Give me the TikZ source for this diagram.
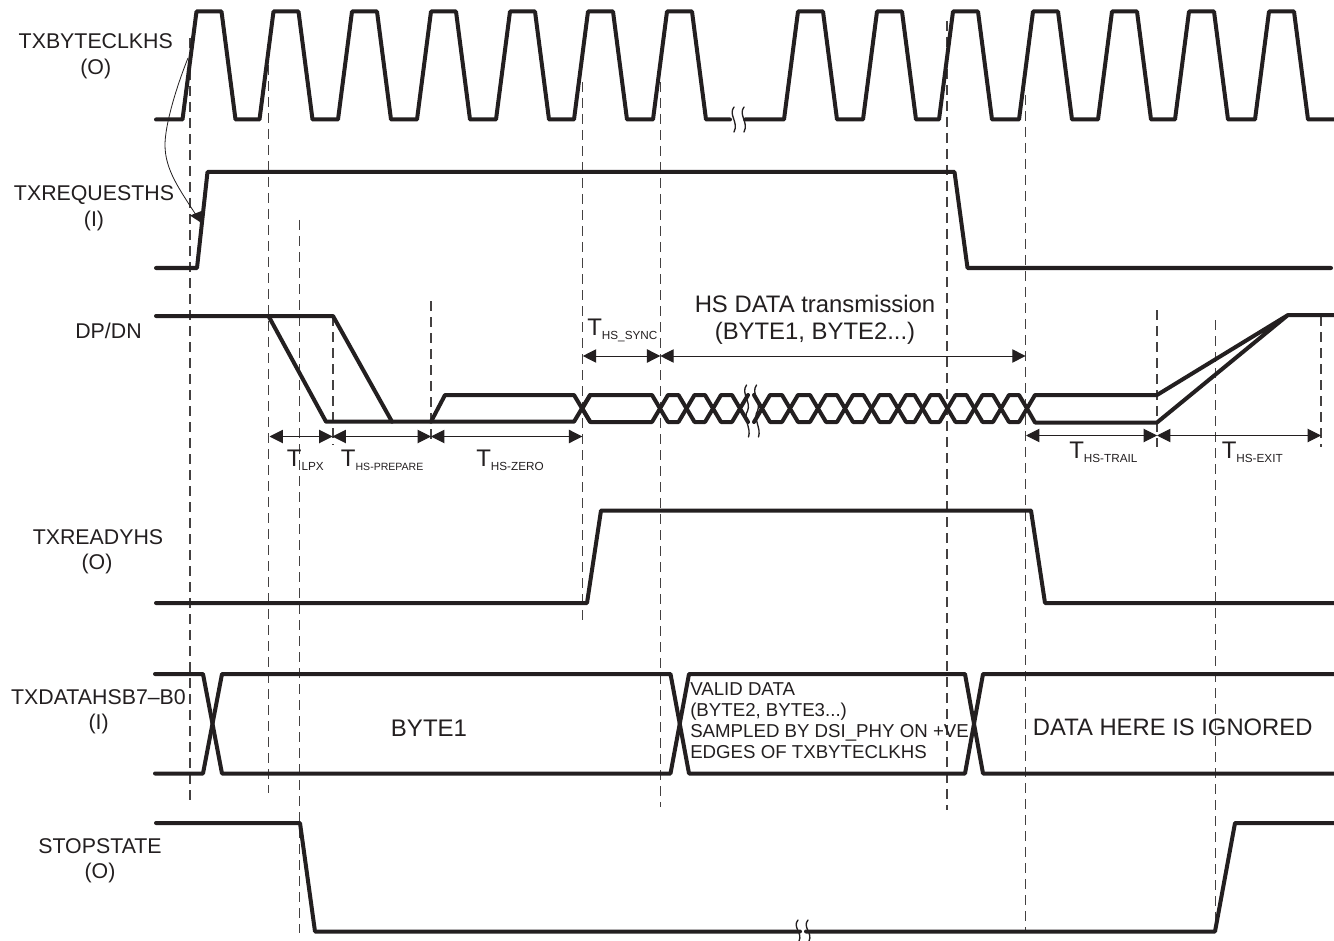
\documentclass[tikz,border=0pt]{standalone}
\usepackage{fontspec}
\setmainfont{Liberation Sans}
\usetikzlibrary{arrows.meta}
\definecolor{ink}{HTML}{231F20}
\newcommand{\fs}[1]{\fontsize{#1}{#1}\selectfont}
\newcommand{\tlabsized}[2]{{\fs{18}T}\raisebox{-3.2pt}{\fs{#1}#2}}
\newcommand{\tlab}[1]{\tlabsized{8.8}{#1}}
\tikzset{
  x=0.75pt,y=-0.75pt,
  wave/.style={draw=ink,line width=3pt,line cap=round,line join=round},
  guide/.style={draw=ink!85,line width=0.8pt,dash pattern=on 7.5pt off 4.5pt},
  dim/.style={draw=ink,line width=0.75pt,{Triangle[length=10pt,width=10pt]}-{Triangle[length=10pt,width=10pt]}},
  thin curve/.style={draw=ink,line width=0.6pt},
  squig/.style={draw=ink,line width=1pt,line cap=round},
  sig/.style={text=ink,font=\fs{16},anchor=base,inner sep=0pt},
  big/.style={text=ink,font=\fs{17.9},anchor=base,inner sep=0pt},
  small/.style={text=ink,font=\fs{14},anchor=base west,inner sep=0pt},
  time/.style={text=ink,anchor=base west,inner sep=0pt},
}
\begin{document}
\begin{tikzpicture}
\useasboundingbox (0,0) rectangle (1334,941);
\fill[white] (0,0) rectangle (1334,941);

% guides
\draw[guide] (190,38) -- (190,800);
\draw[guide] (268.5,65) -- (268.5,793);
\draw[guide] (299.5,220) -- (299.5,933);
\draw[guide] (333,316) -- (333,445);
\draw[guide] (431,301) -- (431,445);
\draw[guide] (582.5,82) -- (582.5,620);
\draw[guide] (660.3,82) -- (660.3,807);
\draw[guide] (947,21) -- (947,810);
\draw[guide] (1025.6,95) -- (1025.6,931);
\draw[guide] (1157,310) -- (1157,447);
\draw[guide] (1215.4,320) -- (1215.4,931);
\draw[guide] (1321,316) -- (1321,447);

% clock
\draw[wave] (156,119.5)
  \foreach \t in {196.5,273.5,352,431,510,588,667}{
    -- (\t-14,119.5) -- (\t,11.5) -- (\t+25,11.5) -- (\t+39,119.5)}
  -- (730,119.5);
\draw[wave] (745,119.5)
  \foreach \t in {798,877,953,1033,1112,1189,1269}{
    -- (\t-14,119.5) -- (\t,11.5) -- (\t+25,11.5) -- (\t+39,119.5)}
  -- (1334,119.5);

% other signals
\draw[wave] (156,268) -- (197,268) -- (207.5,172) -- (954.5,172) -- (967.5,268) -- (1331,268);
\draw[wave] (156,603) -- (587,603) -- (601,510.5) -- (1031,510.5) -- (1045,603) -- (1334,603);
\draw[wave] (155,674) -- (203,674) -- (222,773.5) -- (670.5,773.5) -- (689,674) -- (965,674) -- (983,773.5) -- (1334,773.5);
\draw[wave] (155,773.5) -- (203,773.5) -- (222,674) -- (670.5,674) -- (689,773.5) -- (965,773.5) -- (983,674) -- (1334,674);
\draw[wave] (156,823) -- (300,823) -- (315,931.5) -- (800,931.5);
\draw[wave] (806,931.5) -- (1215,931.5) -- (1235,823) -- (1334,823);

% DP/DN
\draw[wave] (156,316) -- (333,316) -- (392,421.7);
\draw[wave] (268.5,316) -- (326,421.7) -- (574,421.7) -- (590,395);
\draw[wave] (431,421.7) -- (445,395) -- (574,395) -- (590,421.7);
\foreach \c/\d in {582.3/660,660/686.5,686.5/713,713/740,762/790,790/818,818/845,845/871.5,871.5/898,898/922.5,922.5/947.5,947.5/974.5,974.5/1001,1001/1027}{
  \draw[wave] (\c,408.5) -- (\c+8,395) -- (\d-8,395) -- (\d,408.5) -- (\d-8,422) -- (\c+8,422) -- cycle;
}
\draw[wave] (748,395) -- (740,408.5) -- (748,422);
\draw[wave] (754,395) -- (762,408.5) -- (754,422);
\draw[wave] (1288,315) -- (1157,395) -- (1035,395) -- (1027,408.5) -- (1035,422.5) -- (1157,422.5) -- (1288,315) -- (1334,315);

% break marks
\foreach \x in {733,743}{
  \draw[squig] (\x+1,107) .. controls (\x-5,115) and (\x+6,122) .. (\x+1,132);
}
\foreach \x in {797,807}{
  \draw[squig] (\x+1,920) .. controls (\x-5,927) and (\x+6,933) .. (\x+2,941);
}
\foreach \x in {746.5,756.5}{
  \draw[squig] (\x,385) .. controls (\x-6,393) and (\x+5,402) .. (\x+1,411)
                        .. controls (\x-4,418) and (\x+5,428) .. (\x+2,437);
}

% request arrow
\coordinate (curveA) at (188,58);
\coordinate (curveB) at (165,145);
\coordinate (curveC) at (196,215);
\draw[thin curve] (curveA) .. controls (176,88) and (165,125) .. (curveB)
                  .. controls (165,170) and (180,190) .. (curveC);
\fill[ink] (190,215.5) -- (204,210) -- (203,224) -- cycle;

% dimension arrows
\coordinate (a0) at (269.5,436.5);
\coordinate (a1) at (332.5,436.5);
\coordinate (a2) at (431,436.5);
\coordinate (a3) at (582.3,436.5);
\coordinate (b0) at (582.8,356);
\coordinate (b1) at (660.3,356);
\coordinate (b2) at (1025.6,356);
\coordinate (c0) at (1026,435.5);
\coordinate (c1) at (1157,435.5);
\coordinate (c2) at (1321,435.5);
\draw[dim] (a0) -- (a1);
\draw[dim] (a1) -- (a2);
\draw[dim] (a2) -- (a3);
\draw[dim] (b0) -- (b1);
\draw[dim] (b1) -- (b2);
\draw[dim] (c0) -- (c1);
\draw[dim] (c1) -- (c2);

% time labels
\node[time] (tlpx)  at (286.7,466.7) {\tlab{LPX}};
\node[time] (tprep) at (340.7,466.7) {\tlabsized{7.9}{HS-PREPARE}};
\node[time] (tzero) at (476,466.7) {\tlab{HS-ZERO}};
\node[time] (tsync) at (587,335.7) {\tlab{HS\_SYNC}};
\node[time] (ttrail) at (1069,458) {\tlab{HS-TRAIL}};
\node[time] (texit) at (1221.5,458) {\tlab{HS-EXIT}};

% signal names
\node[sig] (n1) at (95.8,49) {TXBYTECLKHS};
\node[sig] (n1b) at (95.7,74.5) {(O)};
\node[sig] (n2) at (94,200.7) {TXREQUESTHS};
\node[sig] (n2b) at (94,227) {(I)};
\node[sig] (n3) at (108.5,338) {DP/DN};
\node[sig] (n4) at (98,544) {TXREADYHS};
\node[sig] (n4b) at (97,569.5) {(O)};
\node[sig] (n5) at (98.5,704) {TXDATAHSB7–B0};
\node[sig] (n5b) at (98.7,729) {(I)};
\node[sig] (n6) at (100,853) {STOPSTATE};
\node[sig] (n6b) at (100,878) {(O)};

% content
\node[big] (hs1) at (815,312.7) {HS DATA transmission};
\node[big] (hs2) at (815,339) {(BYTE1, BYTE2...)};
\node[big,font=\fs{18}] (byte) at (429,736) {BYTE1};
\node[small,font=\fs{17.85},anchor=base west] (ign) at (1032.7,735) {DATA HERE IS IGNORED};
\node[small] (v1) at (690,695.7) {VALID DATA};
\node[small] (v2) at (690,716.7) {(BYTE2, BYTE3...)};
\node[small] (v3) at (690,737.7) {SAMPLED BY DSI\_PHY ON +VE};
\node[small] (v4) at (690,758.3) {EDGES OF TXBYTECLKHS};
\end{tikzpicture}
\end{document}
